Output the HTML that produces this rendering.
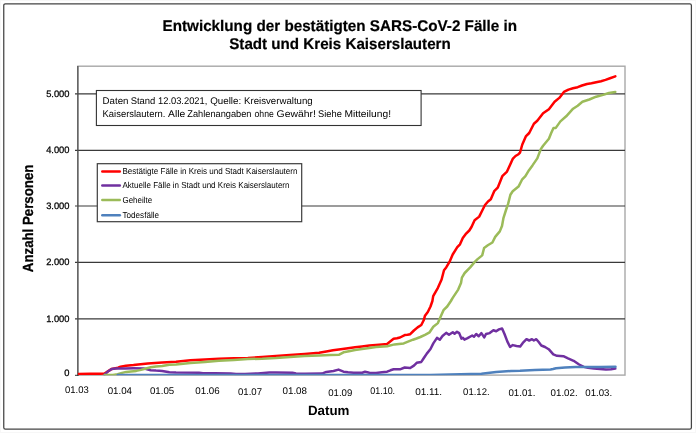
<!DOCTYPE html>
<html><head><meta charset="utf-8"><title>Chart</title>
<style>
html,body{margin:0;padding:0;background:#fff;}
body{width:696px;height:433px;overflow:hidden;}
svg{display:block;will-change:transform;}
text{font-family:"Liberation Sans",sans-serif;fill:#000;text-rendering:geometricPrecision;}
.title{font-size:15.5px;font-weight:bold;stroke:#000;stroke-width:0.2px;}
.yl{font-size:9.33px;stroke:#000;stroke-width:0.25px;}
.xl{font-size:9.7px;}
.ax{font-size:13.33px;font-weight:bold;}
.tb{font-size:9.7px;}
.lg{font-size:8.7px;}
</style></head><body>
<svg width="696" height="433" viewBox="0 0 696 433">
<rect x="0" y="0" width="696" height="433" fill="#fff"/>
<rect x="0.5" y="0.5" width="695" height="432" fill="none" stroke="#f7f7f7" stroke-width="1"/>
<rect x="3.75" y="3.8" width="687.65" height="425.25" rx="1.6" fill="#fff" stroke="#444" stroke-width="1.25"/>
<text x="339.8" y="31.1" text-anchor="middle" class="title" textLength="354.5" lengthAdjust="spacingAndGlyphs">Entwicklung der bestätigten SARS-CoV-2 Fälle in</text>
<text x="340" y="48.5" text-anchor="middle" class="title" textLength="221.5" lengthAdjust="spacingAndGlyphs">Stadt und Kreis Kaiserslautern</text>
<rect x="77.85" y="66.2" width="547.15" height="308.9" fill="#fff" stroke="#a8a8a8" stroke-width="1.4"/>
<line x1="75" y1="318.90" x2="625" y2="318.90" stroke="#3a3a3a" stroke-width="1.2"/>
<line x1="75" y1="262.40" x2="625" y2="262.40" stroke="#3a3a3a" stroke-width="1.2"/>
<line x1="75" y1="206.00" x2="625" y2="206.00" stroke="#3a3a3a" stroke-width="1.2"/>
<line x1="75" y1="150.40" x2="625" y2="150.40" stroke="#3a3a3a" stroke-width="1.2"/>
<line x1="75" y1="93.95" x2="625" y2="93.95" stroke="#3a3a3a" stroke-width="1.2"/>

<line x1="77.85" y1="66" x2="77.85" y2="375.7" stroke="#505050" stroke-width="1.25"/>
<line x1="75" y1="375.3" x2="78.5" y2="375.3" stroke="#333" stroke-width="1"/>
<text x="69.5" y="376.40" text-anchor="end" class="yl">0</text>
<text x="69.5" y="321.70" text-anchor="end" class="yl">1.000</text>
<text x="69.5" y="265.20" text-anchor="end" class="yl">2.000</text>
<text x="69.5" y="208.80" text-anchor="end" class="yl">3.000</text>
<text x="69.5" y="153.20" text-anchor="end" class="yl">4.000</text>
<text x="69.5" y="96.75" text-anchor="end" class="yl">5.000</text>

<text x="65.10" y="393.00" class="xl" textLength="23.7" lengthAdjust="spacingAndGlyphs">01.03</text>
<text x="107.70" y="394.20" class="xl" textLength="24.3" lengthAdjust="spacingAndGlyphs">01.04</text>
<text x="149.90" y="394.40" class="xl" textLength="24.3" lengthAdjust="spacingAndGlyphs">01.05</text>
<text x="195.30" y="394.20" class="xl" textLength="24.4" lengthAdjust="spacingAndGlyphs">01.06</text>
<text x="238.00" y="395.30" class="xl" textLength="24.0" lengthAdjust="spacingAndGlyphs">01.07</text>
<text x="282.50" y="394.20" class="xl" textLength="24.5" lengthAdjust="spacingAndGlyphs">01.08</text>
<text x="328.20" y="396.10" class="xl" textLength="24.1" lengthAdjust="spacingAndGlyphs">01.09</text>
<text x="370.30" y="394.20" class="xl" textLength="24.8" lengthAdjust="spacingAndGlyphs">01.10.</text>
<text x="415.20" y="395.30" class="xl" textLength="26.9" lengthAdjust="spacingAndGlyphs">01.11.</text>
<text x="463.10" y="395.30" class="xl" textLength="26.5" lengthAdjust="spacingAndGlyphs">01.12.</text>
<text x="508.40" y="396.10" class="xl" textLength="27.0" lengthAdjust="spacingAndGlyphs">01.01.</text>
<text x="550.60" y="396.10" class="xl" textLength="27.0" lengthAdjust="spacingAndGlyphs">01.02.</text>
<text x="585.30" y="396.10" class="xl" textLength="26.8" lengthAdjust="spacingAndGlyphs">01.03.</text>

<clipPath id="pc"><rect x="77.85" y="66.2" width="547.15" height="308.95"/></clipPath>
<g fill="none" stroke-linejoin="round" stroke-linecap="round" stroke-width="2.5" clip-path="url(#pc)">
<path d="M78.20 373.90 L90.00 373.80 L100.00 373.80 L104.50 373.60 L107.50 371.60 L111.70 368.90 L115.50 368.20 L118.00 367.70 L120.50 366.80 L126.00 365.80 L133.50 365.10 L147.80 363.40 L162.20 362.60 L176.00 361.80 L190.40 360.30 L205.00 359.40 L219.00 358.70 L234.00 358.30 L247.80 357.90 L262.20 357.00 L276.00 356.10 L290.00 355.00 L304.70 353.90 L319.10 352.80 L326.30 351.40 L333.00 350.20 L340.70 349.20 L348.00 348.20 L355.00 347.30 L362.00 346.40 L369.40 345.50 L376.00 344.90 L382.00 344.40 L387.10 344.00 L390.80 341.00 L393.60 338.80 L397.00 338.30 L400.00 337.50 L404.70 335.10 L407.50 334.80 L410.20 334.20 L413.90 330.50 L417.60 327.40 L421.30 325.00 L423.70 320.30 L425.00 315.70 L427.80 312.00 L430.50 306.50 L432.40 301.00 L433.20 296.10 L437.90 287.80 L441.60 279.50 L444.00 270.20 L446.20 267.40 L449.50 261.90 L452.70 254.50 L457.30 247.10 L460.00 244.30 L462.80 237.90 L465.60 234.20 L469.30 230.50 L471.50 227.00 L474.60 220.30 L479.20 216.60 L482.00 211.00 L485.00 205.00 L488.00 201.50 L490.80 199.30 L494.20 191.20 L497.70 187.70 L500.00 182.00 L502.30 176.20 L507.00 171.60 L510.00 165.00 L512.70 158.90 L515.50 156.00 L518.50 154.20 L520.00 152.60 L522.30 144.50 L525.80 136.40 L529.20 133.00 L533.90 123.70 L537.30 120.70 L543.10 113.30 L548.90 109.20 L554.60 101.80 L559.30 97.90 L563.90 91.90 L568.50 89.60 L573.00 88.30 L577.70 87.20 L582.00 85.50 L587.00 84.00 L591.50 83.30 L596.20 82.20 L601.00 81.20 L605.50 79.90 L610.00 78.30 L615.30 76.30" stroke="#FF0000"/>
<path d="M104.50 374.60 L107.50 371.80 L111.70 369.00 L115.50 368.40 L125.00 368.40 L133.50 368.30 L143.50 368.40 L147.00 369.30 L150.70 370.20 L156.00 370.60 L162.20 370.90 L169.40 372.30 L176.00 372.60 L199.00 372.70 L203.00 373.20 L215.00 373.30 L230.60 373.40 L236.00 373.90 L245.00 374.10 L258.00 373.40 L269.40 372.60 L276.00 372.50 L292.50 372.80 L296.00 373.50 L305.00 373.70 L322.00 373.60 L326.30 371.90 L333.50 371.00 L338.50 369.60 L343.50 371.70 L348.00 372.30 L353.60 372.70 L362.20 372.70 L365.00 371.80 L369.40 372.70 L376.00 372.90 L382.00 372.30 L387.10 371.70 L390.50 370.30 L393.60 369.30 L400.00 369.30 L404.70 367.50 L410.20 368.00 L413.90 365.60 L416.70 362.80 L421.30 361.90 L423.70 358.20 L426.80 353.60 L430.50 349.00 L433.30 343.40 L437.00 337.90 L439.80 339.70 L442.50 336.00 L446.20 332.90 L449.00 334.70 L452.80 332.20 L454.60 333.70 L457.00 331.80 L459.20 333.10 L461.50 338.70 L462.90 337.70 L464.40 339.60 L467.60 338.10 L472.20 335.50 L474.00 336.80 L476.20 334.00 L478.70 336.20 L481.40 333.10 L484.20 337.40 L486.00 334.00 L489.70 333.10 L493.40 330.30 L496.20 331.30 L499.00 329.40 L502.10 328.50 L504.50 334.00 L507.30 341.40 L510.10 347.00 L512.80 345.10 L516.50 346.00 L520.20 346.40 L522.80 342.90 L526.50 339.20 L529.20 340.50 L532.00 339.20 L533.90 340.50 L536.30 339.20 L538.50 341.80 L541.30 345.50 L545.00 347.00 L548.70 349.20 L553.30 354.40 L557.00 355.80 L563.40 356.20 L568.00 358.40 L573.60 360.80 L579.10 364.50 L583.80 366.90 L588.00 367.80 L594.00 368.60 L600.00 369.00 L606.00 369.40 L611.00 369.30 L615.30 368.60" stroke="#7030A0"/>
<path d="M104.70 375.00 L113.00 375.00 L117.70 374.30 L122.00 372.90 L126.30 371.90 L131.00 371.40 L136.30 370.90 L141.00 369.90 L145.00 368.70 L150.70 367.30 L156.00 366.60 L162.20 365.90 L169.40 364.80 L176.00 364.40 L190.40 363.00 L205.00 361.90 L219.00 360.80 L234.00 359.90 L247.80 359.10 L262.20 358.70 L276.00 358.00 L290.00 356.90 L304.70 355.90 L319.10 355.40 L330.00 355.00 L339.20 354.70 L343.50 352.30 L349.00 351.20 L355.00 350.10 L362.00 349.00 L369.40 348.00 L376.00 347.10 L387.10 346.20 L394.50 344.40 L399.00 343.90 L403.70 343.40 L408.00 341.60 L413.00 339.70 L416.50 338.50 L420.40 337.00 L425.00 334.80 L429.60 332.30 L433.30 326.80 L437.90 323.10 L440.70 316.60 L443.50 310.20 L447.20 306.50 L450.90 301.00 L452.70 297.90 L458.20 289.60 L461.00 283.10 L461.90 277.60 L464.70 273.00 L470.20 267.40 L474.80 261.90 L477.60 259.10 L482.20 255.40 L484.10 248.00 L487.80 245.30 L492.40 242.50 L495.20 236.90 L499.80 231.40 L502.00 226.00 L503.50 217.80 L506.00 210.00 L508.10 203.90 L510.40 194.70 L512.70 191.20 L518.50 186.60 L522.00 179.70 L525.40 176.20 L529.00 170.20 L532.50 165.40 L537.30 158.40 L540.80 149.10 L543.10 145.70 L548.90 138.70 L551.20 133.00 L553.50 127.90 L555.80 127.90 L560.40 121.40 L566.20 116.30 L573.10 108.70 L577.70 105.70 L582.40 101.80 L589.30 99.50 L596.20 96.70 L603.10 94.90 L608.90 93.00 L615.30 92.00" stroke="#9BBB59"/>
<path d="M117.70 375.00 L300.00 375.00 L430.00 374.90 L450.00 374.60 L481.40 373.80 L496.20 371.90 L511.00 371.00 L520.00 370.80 L534.80 370.10 L550.50 369.50 L553.00 369.00 L556.00 368.20 L565.00 367.50 L575.50 366.90 L600.00 366.90 L615.50 366.80" stroke="#4F81BD"/>
</g>
<rect x="96.4" y="90.5" width="324.7" height="35" fill="#fff" stroke="#333" stroke-width="1.1"/>
<text x="102.60" y="103.80" class="tb" textLength="25.90" lengthAdjust="spacingAndGlyphs">Daten</text>
<text x="130.70" y="103.80" class="tb" textLength="24.70" lengthAdjust="spacingAndGlyphs">Stand</text>
<text x="158.00" y="103.80" class="tb" textLength="49.30" lengthAdjust="spacingAndGlyphs">12.03.2021,</text>
<text x="210.20" y="103.80" class="tb" textLength="31.00" lengthAdjust="spacingAndGlyphs">Quelle:</text>
<text x="244.00" y="103.80" class="tb" textLength="68.70" lengthAdjust="spacingAndGlyphs">Kreisverwaltung</text>
<text x="102.60" y="116.70" class="tb" textLength="62.80" lengthAdjust="spacingAndGlyphs">Kaiserslautern.</text>
<text x="168.10" y="116.70" class="tb" textLength="17.20" lengthAdjust="spacingAndGlyphs">Alle</text>
<text x="187.30" y="116.70" class="tb" textLength="64.20" lengthAdjust="spacingAndGlyphs">Zahlenangaben</text>
<text x="254.50" y="116.70" class="tb" textLength="19.30" lengthAdjust="spacingAndGlyphs">ohne</text>
<text x="276.60" y="116.70" class="tb" textLength="39.30" lengthAdjust="spacingAndGlyphs">Gewähr!</text>
<text x="318.10" y="116.70" class="tb" textLength="23.70" lengthAdjust="spacingAndGlyphs">Siehe</text>
<text x="344.40" y="116.70" class="tb" textLength="46.60" lengthAdjust="spacingAndGlyphs">Mitteilung!</text>
<rect x="97.3" y="163.7" width="204.4" height="58" fill="#fff" stroke="#3c3c3c" stroke-width="1.2"/>
<g stroke-width="2.5" stroke-linecap="round">
<line x1="102.3" y1="171.5" x2="119.8" y2="171.5" stroke="#FF0000"/>
<line x1="102.3" y1="185.5" x2="119.8" y2="185.5" stroke="#7030A0"/>
<line x1="102.3" y1="200.05" x2="119.8" y2="200.05" stroke="#9BBB59"/>
<line x1="102.3" y1="215.25" x2="119.8" y2="215.25" stroke="#4F81BD"/>
</g>
<text x="122.5" y="174.2" class="lg" textLength="175" lengthAdjust="spacingAndGlyphs">Bestätigte Fälle in Kreis und Stadt Kaiserslautern</text>
<text x="122.5" y="188.3" class="lg" textLength="167" lengthAdjust="spacingAndGlyphs">Aktuelle Fälle in Stadt und Kreis Kaiserslautern</text>
<text x="122.5" y="203.2" class="lg" textLength="29.6" lengthAdjust="spacingAndGlyphs">Geheilte</text>
<text x="122.5" y="218.0" class="lg" textLength="36.6" lengthAdjust="spacingAndGlyphs">Todesfälle</text>
<text transform="translate(32.5 218.4) rotate(-90) scale(1 1.1)" stroke="#000" stroke-width="0.25" text-anchor="middle" class="ax" textLength="107.5" lengthAdjust="spacingAndGlyphs">Anzahl Personen</text>
<text x="328.7" y="415" text-anchor="middle" class="ax">Datum</text>
</svg>
</body></html>
